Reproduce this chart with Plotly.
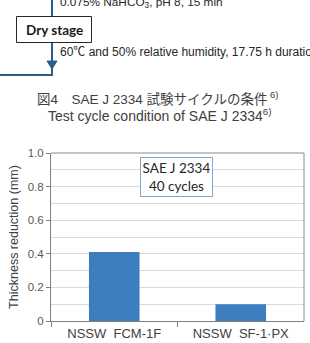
import plotly.graph_objects as go

W, H = 310, 343

categories = ["NSSW  FCM-1F", "NSSW  SF-1·PX"]
thickness_reduction = [0.41, 0.10]
y_tick_vals = [0, 0.2, 0.4, 0.6, 0.8, 1.0]
y_tick_text = ["0", "0.2", "0.4", "0.6", "0.8", "1.0"]

box_label = "SAE J 2334<br>40 cycles"
caption_jp = "図4　SAE J 2334 試験サイクルの条件<sup> 6)</sup>"
caption_en = "Test cycle condition of SAE J 2334<sup>6)</sup>"
flow_text_top = "0.075% NaHCO<sub>3</sub>, pH 8, 15 min"
flow_text_bottom = "60℃ and 50% relative humidity, 17.75 h duration"
stage_label = "<b>Dry stage</b>"


def px(x):
    return x / W


def py(y):
    return 1 - y / H


FLOW = "#2e5c8a"
BAR = "#3d7ebf"
GRID = "#d9d9d9"
TXT = "#404040"

fig = go.Figure()
fig.add_trace(go.Bar(x=categories, y=thickness_reduction, marker=dict(color=BAR, line=dict(width=0)),
                     width=0.4, showlegend=False))

plot_l, plot_r, plot_t, plot_b = 51, 304, 153, 321

fig.update_layout(
    width=W, height=H, autosize=False,
    margin=dict(l=0, r=0, t=0, b=0),
    paper_bgcolor="white", plot_bgcolor="white",
    font=dict(family="Arial, Liberation Sans, Noto Sans CJK JP", color=TXT),
    xaxis=dict(domain=[px(plot_l), px(plot_r)], tickson="boundaries", ticks="outside", ticklen=5,
               tickcolor="#7f7f7f", showline=True, linecolor="#7f7f7f", linewidth=1, mirror=False,
               showgrid=False, tickfont=dict(size=13, color="#404040"), fixedrange=True, automargin=False),
    yaxis=dict(domain=[py(plot_b), py(plot_t)], range=[0, 1.0], tickvals=y_tick_vals, ticktext=y_tick_text,
               ticks="outside", ticklen=4, tickcolor="#7f7f7f", showline=True, linecolor="#7f7f7f",
               linewidth=1, showgrid=True, gridcolor=GRID, gridwidth=1,
               minor=dict(dtick=0.1, showgrid=True, gridcolor=GRID, gridwidth=1),
               tickfont=dict(size=11.5, color="#595959"), zeroline=False,
               title=dict(text="Thickness reduction (mm)", font=dict(size=12.5, color="#404040"), standoff=6),
               fixedrange=True, automargin=False),
    bargap=0.6,
)

shapes = []
# plot border top & right
shapes.append(dict(type="line", xref="paper", yref="paper", x0=px(plot_l), x1=px(plot_r), y0=py(plot_t), y1=py(plot_t),
                   line=dict(color="#8c8c8c", width=1)))
shapes.append(dict(type="line", xref="paper", yref="paper", x0=px(plot_r), x1=px(plot_r), y0=py(plot_t), y1=py(plot_b),
                   line=dict(color="#8c8c8c", width=1)))
# flow chart lines
shapes.append(dict(type="line", xref="paper", yref="paper", x0=px(52), x1=px(52), y0=py(-2), y1=py(16),
                   line=dict(color=FLOW, width=2)))
shapes.append(dict(type="line", xref="paper", yref="paper", x0=px(52), x1=px(52), y0=py(43), y1=py(75),
                   line=dict(color=FLOW, width=2)))
shapes.append(dict(type="line", xref="paper", yref="paper", x0=px(-2), x1=px(53), y0=py(75), y1=py(75),
                   line=dict(color=FLOW, width=2)))
shapes.append(dict(type="path", xref="paper", yref="paper",
                   path=f"M {px(47)},{py(61)} L {px(57)},{py(61)} L {px(52)},{py(69)} Z",
                   fillcolor=FLOW, line=dict(color=FLOW, width=1)))
shapes.append(dict(type="rect", xref="paper", yref="paper", x0=px(16.5), x1=px(91.5), y0=py(42.5), y1=py(16.5),
                   fillcolor="white", line=dict(color="#262626", width=1)))
fig.update_layout(shapes=shapes)

annotations = [
    dict(text=box_label, xref="paper", yref="paper", x=px(176.5), y=py(177), xanchor="center", yanchor="middle",
         showarrow=False, font=dict(family="Lato, Open Sans", size=13.5, color="#262626"),
         bgcolor="white", bordercolor="#7fa7d3", borderwidth=1, borderpad=2, width=67, height=34, align="center"),
    dict(text=stage_label, xref="paper", yref="paper", x=px(54), y=py(29.5), xanchor="center", yanchor="middle",
         showarrow=False, font=dict(family="Lato, Open Sans", size=13.5, color="#1a1a1a"), align="center"),
    dict(text=flow_text_top, xref="paper", yref="paper", x=px(57.5), y=py(3), xanchor="left", yanchor="middle",
         showarrow=False, font=dict(size=11.8, color="#262626"), align="left"),
    dict(text=flow_text_bottom, xref="paper", yref="paper", x=px(57.5), y=py(52), xanchor="left", yanchor="middle",
         showarrow=False, font=dict(size=12, color="#262626"), align="left"),
    dict(text=caption_jp, xref="paper", yref="paper", x=px(157), y=py(97.5), xanchor="center", yanchor="middle",
         showarrow=False, font=dict(family="Arial, Noto Sans CJK JP", size=13.5, color="#404040")),
    dict(text=caption_en, xref="paper", yref="paper", x=px(160), y=py(115), xanchor="center", yanchor="middle",
         showarrow=False, font=dict(size=14, color="#404040")),
]
fig.update_layout(annotations=annotations)

fig.write_html("out.html", config={"displayModeBar": False})
